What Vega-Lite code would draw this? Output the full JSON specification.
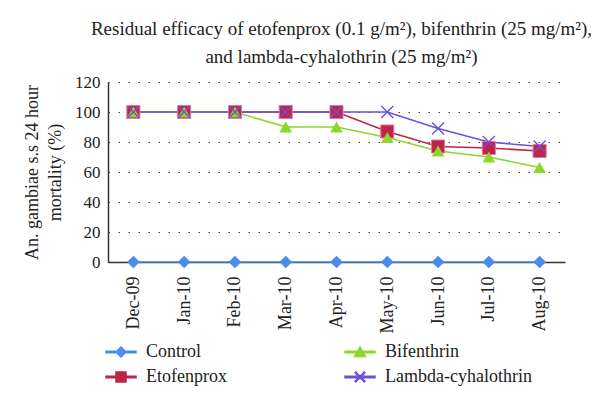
{
  "$schema": "https://vega.github.io/schema/vega-lite/v6.json",
  "width": 457,
  "height": 180,
  "autosize": {"type": "none"},
  "padding": {"left": 108, "top": 82, "right": 35, "bottom": 147},
  "background": "white",
  "title": {
    "text": ["Residual efficacy of etofenprox (0.1 g/m²), bifenthrin (25 mg/m²),", "and lambda-cyhalothrin (25 mg/m²)"],
    "font": "Liberation Serif",
    "fontSize": 19,
    "fontWeight": "normal",
    "color": "#222222",
    "anchor": "middle",
    "frame": "group",
    "lineHeight": 28,
    "offset": 6,
    "dx": 5
  },
  "config": {
    "view": {"stroke": null},
    "font": "Liberation Serif"
  },
  "data": {
    "values": [
      {"series": "Control", "month": "Dec-09", "value": 0},
      {"series": "Control", "month": "Jan-10", "value": 0},
      {"series": "Control", "month": "Feb-10", "value": 0},
      {"series": "Control", "month": "Mar-10", "value": 0},
      {"series": "Control", "month": "Apr-10", "value": 0},
      {"series": "Control", "month": "May-10", "value": 0},
      {"series": "Control", "month": "Jun-10", "value": 0},
      {"series": "Control", "month": "Jul-10", "value": 0},
      {"series": "Control", "month": "Aug-10", "value": 0},
      {"series": "Etofenprox", "month": "Dec-09", "value": 100},
      {"series": "Etofenprox", "month": "Jan-10", "value": 100},
      {"series": "Etofenprox", "month": "Feb-10", "value": 100},
      {"series": "Etofenprox", "month": "Mar-10", "value": 100},
      {"series": "Etofenprox", "month": "Apr-10", "value": 100},
      {"series": "Etofenprox", "month": "May-10", "value": 87},
      {"series": "Etofenprox", "month": "Jun-10", "value": 77},
      {"series": "Etofenprox", "month": "Jul-10", "value": 76},
      {"series": "Etofenprox", "month": "Aug-10", "value": 74},
      {"series": "Bifenthrin", "month": "Dec-09", "value": 100},
      {"series": "Bifenthrin", "month": "Jan-10", "value": 100},
      {"series": "Bifenthrin", "month": "Feb-10", "value": 100},
      {"series": "Bifenthrin", "month": "Mar-10", "value": 90},
      {"series": "Bifenthrin", "month": "Apr-10", "value": 90},
      {"series": "Bifenthrin", "month": "May-10", "value": 83},
      {"series": "Bifenthrin", "month": "Jun-10", "value": 74},
      {"series": "Bifenthrin", "month": "Jul-10", "value": 70},
      {"series": "Bifenthrin", "month": "Aug-10", "value": 63},
      {"series": "Lambda-cyhalothrin", "month": "Dec-09", "value": 100},
      {"series": "Lambda-cyhalothrin", "month": "Jan-10", "value": 100},
      {"series": "Lambda-cyhalothrin", "month": "Feb-10", "value": 100},
      {"series": "Lambda-cyhalothrin", "month": "Mar-10", "value": 100},
      {"series": "Lambda-cyhalothrin", "month": "Apr-10", "value": 100},
      {"series": "Lambda-cyhalothrin", "month": "May-10", "value": 100},
      {"series": "Lambda-cyhalothrin", "month": "Jun-10", "value": 89},
      {"series": "Lambda-cyhalothrin", "month": "Jul-10", "value": 80},
      {"series": "Lambda-cyhalothrin", "month": "Aug-10", "value": 77}
    ]
  },
  "encoding": {
    "x": {
      "field": "month",
      "type": "ordinal",
      "sort": ["Dec-09", "Jan-10", "Feb-10", "Mar-10", "Apr-10", "May-10", "Jun-10", "Jul-10", "Aug-10"],
      "scale": {"type": "point", "padding": 0.5},
      "axis": {
        "title": null,
        "labelAngle": -90,
        "labelFont": "Liberation Serif",
        "labelFontSize": 18,
        "labelColor": "#222222",
        "labelPadding": 14,
        "ticks": false,
        "grid": false,
        "domainColor": "#333333",
        "domainWidth": 1.5
      }
    },
    "y": {
      "field": "value",
      "type": "quantitative",
      "scale": {"domain": [0, 120]},
      "axis": {
        "values": [0, 20, 40, 60, 80, 100, 120],
        "title": ["An. gambiae s.s 24 hour", "mortality (%)"],
        "titleFont": "Liberation Serif",
        "titleFontSize": 18,
        "titleFontWeight": "normal",
        "titleColor": "#222222",
        "titleLineHeight": 23,
        "titlePadding": 10,
        "labelFont": "Liberation Serif",
        "labelFontSize": 17,
        "labelColor": "#222222",
        "labelPadding": 8,
        "ticks": false,
        "domainColor": "#333333",
        "domainWidth": 1.5,
        "grid": true,
        "gridDash": [1.5, 8.5],
        "gridColor": "#444444",
        "gridWidth": 1.2
      }
    },
    "color": {
      "field": "series",
      "type": "nominal",
      "scale": {
        "domain": ["Control", "Etofenprox", "Bifenthrin", "Lambda-cyhalothrin"],
        "range": ["#4A8CEB", "#BF2449", "#8DD62B", "#6E50DA"]
      },
      "legend": {
        "orient": "none",
        "legendX": 2,
        "legendY": 259,
        "columns": 2,
        "columnPadding": 115,
        "rowPadding": 5,
        "padding": 0,
        "title": null,
        "symbolSize": 400,
        "labelFont": "Liberation Serif",
        "labelFontSize": 18,
        "labelColor": "#222222",
        "labelOffset": 14
      }
    }
  },
  "layer": [
    {
      "mark": {"type": "line", "strokeWidth": 1.6}
    },
    {
      "transform": [{"filter": {"field": "series", "equal": "Control"}}],
      "mark": {"type": "point", "filled": true, "opacity": 1, "size": 160, "shape": "diamond"}
    },
    {
      "transform": [{"filter": {"field": "series", "equal": "Etofenprox"}}],
      "mark": {"type": "point", "filled": true, "opacity": 1, "size": 170, "shape": "square", "stroke": "#E07AA0", "strokeWidth": 1}
    },
    {
      "transform": [{"filter": {"field": "series", "equal": "Bifenthrin"}}],
      "mark": {"type": "point", "filled": true, "opacity": 1, "size": 160, "shape": "triangle-up"}
    },
    {
      "transform": [{"filter": {"field": "series", "equal": "Lambda-cyhalothrin"}}],
      "mark": {"type": "point", "filled": true, "opacity": 1, "size": 170, "shape": "M-1,-0.85L-0.85,-1L0,-0.15L0.85,-1L1,-0.85L0.15,0L1,0.85L0.85,1L0,0.15L-0.85,1L-1,0.85L-0.15,0Z"}
    },
    {
      "transform": [{"filter": "datum.value < 0"}],
      "mark": {"type": "point", "filled": true, "opacity": 1},
      "encoding": {
        "shape": {
          "field": "series",
          "type": "nominal",
          "scale": {
            "domain": ["Control", "Etofenprox", "Bifenthrin", "Lambda-cyhalothrin"],
            "range": [
              "M-1.5,-0.075H1.5V0.075H-1.5Z M0,-0.5L0.5,0L0,0.5L-0.5,0Z",
              "M-1.5,-0.075H1.5V0.075H-1.5Z M-0.5,-0.5H0.5V0.5H-0.5Z",
              "M-1.5,-0.075H1.5V0.075H-1.5Z M0,-0.5L0.55,0.45H-0.55Z",
              "M-1.5,-0.075H1.5V0.075H-1.5Z M-0.5,-0.425L-0.425,-0.5L0,-0.075L0.425,-0.5L0.5,-0.425L0.075,0L0.5,0.425L0.425,0.5L0,0.075L-0.425,0.5L-0.5,0.425L-0.075,0Z"
            ]
          },
          "legend": {
            "orient": "none",
            "legendX": 2,
            "legendY": 259,
            "columns": 2,
            "columnPadding": 115,
            "rowPadding": 5,
            "padding": 0,
            "title": null,
            "symbolSize": 400,
            "labelFont": "Liberation Serif",
            "labelFontSize": 18,
            "labelColor": "#222222",
            "labelOffset": 14
          }
        }
      }
    }
  ]
}
